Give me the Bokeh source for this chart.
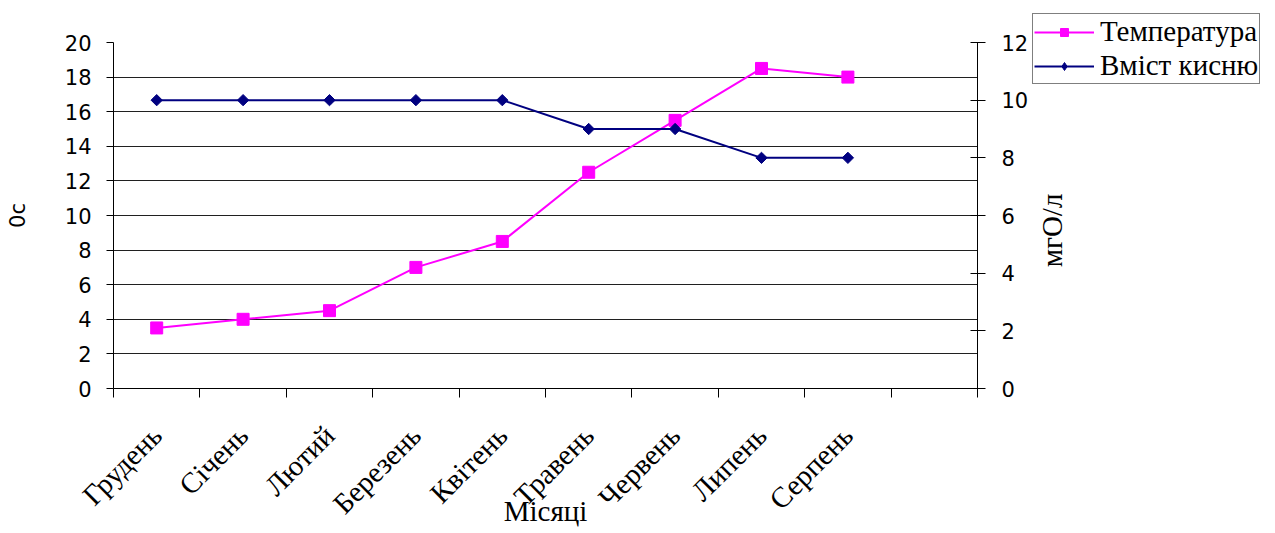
import numpy as np
from bokeh.plotting import figure
from bokeh.models import Range1d, LinearAxis, FixedTicker, Legend, LegendItem, Label
from bokeh.embed import file_html
from bokeh.resources import INLINE

# Monthly water observations
months = ["Грудень", "Січень", "Лютий", "Березень", "Квітень",
          "Травень", "Червень", "Липень", "Серпень"]
temperature = [3.5, 4, 4.5, 7, 8.5, 12.5, 15.5, 18.5, 18]   # °C, left axis
oxygen = [10, 10, 10, 10, 10, 9, 9, 8, 8]                    # mg O/l, right axis
temp_ticks = list(range(0, 21, 2))
oxy_ticks = list(range(0, 13, 2))
n_slots = 10  # nine months plus one spare slot on the right

SERIF = "Liberation Serif"
SANS = "DejaVu Sans"
W, H = 1275, 533
TEMP_COLOR = "#FF00FF"
OXY_COLOR = "#000080"

x = [i + 0.5 for i in range(len(months))]

p = figure(width=W, height=H, output_backend="svg", toolbar_location=None,
           x_range=Range1d(0, n_slots), y_range=Range1d(0, 20),
           min_border_left=113, min_border_right=298,
           min_border_top=42, min_border_bottom=145)
p.extra_y_ranges = {"oxy": Range1d(0, 12)}
p.outline_line_color = None
p.background_fill_color = "white"
p.border_fill_color = "white"

# horizontal grid on the temperature scale
p.xgrid.visible = False
p.ygrid.ticker = FixedTicker(ticks=temp_ticks)
p.ygrid.grid_line_color = "#202020"
p.ygrid.grid_line_width = 1

# left axis: temperature
ya = p.yaxis[0]
ya.ticker = FixedTicker(ticks=temp_ticks, minor_ticks=[])
ya.axis_line_color = "black"
ya.major_tick_line_color = "black"
ya.major_tick_out = 7
ya.major_tick_in = 0
ya.minor_tick_out = 0
ya.major_label_text_font = SANS
ya.major_label_text_font_size = "21px"
ya.major_label_text_color = "black"
ya.major_label_standoff = 15
ya.axis_label = "0c"
ya.axis_label_text_font = SANS
ya.axis_label_text_font_size = "21px"
ya.axis_label_text_font_style = "normal"
ya.axis_label_text_color = "black"
ya.axis_label_standoff = 32

# right axis: dissolved oxygen (its title is set on the overlay below)
ra = LinearAxis(y_range_name="oxy", ticker=FixedTicker(ticks=oxy_ticks, minor_ticks=[]))
ra.axis_line_color = "black"
ra.major_tick_line_color = "black"
ra.major_tick_out = 8
ra.major_tick_in = 7
ra.minor_tick_out = 0
ra.major_label_text_font = SANS
ra.major_label_text_font_size = "21px"
ra.major_label_text_color = "black"
ra.major_label_standoff = 16
p.add_layout(ra, "right")

# bottom axis: month names under the points, tick marks on slot edges
xa = p.xaxis[0]
xa.ticker = FixedTicker(ticks=x, minor_ticks=list(range(0, n_slots + 1)))
xa.major_label_overrides = {xi: m for xi, m in zip(x, months)}
xa.axis_line_color = "black"
xa.major_tick_out = 0
xa.major_tick_in = 0
xa.minor_tick_out = 9
xa.minor_tick_in = 0
xa.minor_tick_line_color = "black"
xa.major_label_orientation = np.pi / 4
xa.major_label_text_font = SERIF
xa.major_label_text_font_size = "29px"
xa.major_label_text_color = "black"
xa.major_label_standoff = 33
xa.axis_label = "Місяці"
xa.axis_label_text_font = SERIF
xa.axis_label_text_font_size = "29px"
xa.axis_label_text_font_style = "normal"
xa.axis_label_text_color = "black"
xa.axis_label_standoff = -39

# series
p.line(x, temperature, line_color=TEMP_COLOR, line_width=2)
p.scatter(x, temperature, marker="square", size=12,
          fill_color=TEMP_COLOR, line_color=TEMP_COLOR)
p.line(x, oxygen, y_range_name="oxy", line_color=OXY_COLOR, line_width=2)
p.scatter(x, oxygen, y_range_name="oxy", marker="square", angle=np.pi / 4,
          size=8, fill_color=OXY_COLOR, line_color=OXY_COLOR)

# transparent canvas laid over the chart (pixel coordinates, origin bottom-left),
# carrying the legend box and the right-hand axis title
q = figure(width=W, height=H, output_backend="svg", toolbar_location=None,
           x_range=Range1d(0, W), y_range=Range1d(0, H),
           x_axis_location=None, y_axis_location=None, min_border=0,
           styles={"position": "absolute", "left": "0px", "top": "0px"})
q.outline_line_color = None
q.background_fill_alpha = 0
q.border_fill_alpha = 0
q.grid.visible = False

# hidden copies of the series, used only for the legend keys
k_t_line = q.line(x, temperature, line_color=TEMP_COLOR, line_width=2, visible=False)
k_t_mark = q.scatter(x, temperature, marker="square", size=12,
                     fill_color=TEMP_COLOR, line_color=TEMP_COLOR, visible=False)
k_o_line = q.line(x, oxygen, line_color=OXY_COLOR, line_width=2, visible=False)
k_o_mark = q.scatter(x, oxygen, marker="diamond", size=16,
                     fill_color=OXY_COLOR, line_color=OXY_COLOR, visible=False)

legend = Legend(items=[LegendItem(label="Температура", renderers=[k_t_line, k_t_mark]),
                       LegendItem(label="Вміст кисню", renderers=[k_o_line, k_o_mark])],
                location=(1032, H - 84))
legend.border_line_color = "black"
legend.border_line_width = 1
legend.background_fill_color = "white"
legend.background_fill_alpha = 1
legend.inactive_fill_alpha = 0
legend.label_text_font = SERIF
legend.label_text_font_size = "29px"
legend.label_text_color = "black"
legend.glyph_width = 60
legend.glyph_height = 20
legend.label_standoff = 6
legend.padding = 1
legend.spacing = 1
legend.click_policy = "none"
q.add_layout(legend, "center")

q.add_layout(Label(x=1051, y=H - 230, text="мгО/л", angle=np.pi / 2,
                   text_font=SERIF, text_font_size="29px", text_color="black",
                   text_align="center", text_baseline="middle"))

open("out.html", "w").write(file_html([p, q], INLINE))
